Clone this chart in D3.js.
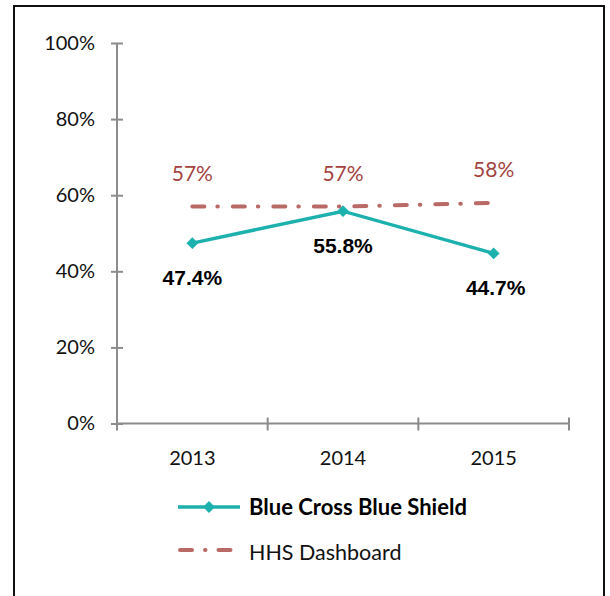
<!DOCTYPE html>
<html>
<head>
<meta charset="utf-8">
<script src="https://cdn.jsdelivr.net/npm/d3@7"></script>
<style>
	body { margin: 0; background: #fff; }
	svg text { font-family: Lato, "Liberation Sans", sans-serif; }
</style>
</head>
<body>
<div id="grafica"></div>
<script>
var years = ['2013', '2014', '2015'];
var bcbs = [0.474, 0.558, 0.447];
var bcbsLabels = ['47.4%', '55.8%', '44.7%'];
var hhs = [0.57, 0.57, 0.58];
var hhsLabels = ['57%', '57%', '58%'];
var yTicks = [0, 0.2, 0.4, 0.6, 0.8, 1];

var W = 610, H = 596;
var m = {t: 43, r: 41, b: 172, l: 117};

var svg = d3.select('#grafica').append('svg')
	.attr('width', W)
	.attr('height', H);

// marco
svg.append('rect')
	.attr('x', 14).attr('y', 6)
	.attr('width', 590).attr('height', 600)
	.attr('fill', 'none')
	.attr('stroke', '#111')
	.attr('stroke-width', 2);

var x = d3.scaleBand().domain(years).range([m.l, W - m.r]);
var y = d3.scaleLinear().domain([0, 1]).range([H - m.b - 0.5, m.t]);
var cx = function(d, i) { return x(years[i]) + x.bandwidth() / 2; };

// eje y
var yAxis = svg.append('g')
	.attr('transform', 'translate(' + m.l + ',0)')
	.call(d3.axisLeft(y).tickValues(yTicks).tickFormat(d3.format('.0%')).tickSize(6).tickPadding(16));
yAxis.selectAll('.tick line').attr('x2', -6).attr('x1', 6);
yAxis.select('.domain').attr('d', 'M0,' + y(1) + 'V' + y(0));

// eje x
var xAxis = svg.append('g')
	.attr('transform', 'translate(0,' + y(0) + ')')
	.call(d3.axisBottom(x).tickSize(0).tickPadding(27));
xAxis.select('.domain').attr('d', 'M' + m.l + ',0H' + (W - m.r));
var limites = years.map(function(d) { return x(d); }).concat([W - m.r]);
xAxis.selectAll('.limite').data(limites).enter().append('line')
	.attr('class', 'limite')
	.attr('x1', function(d) { return d; }).attr('x2', function(d) { return d; })
	.attr('y1', -6).attr('y2', 7);

svg.selectAll('.domain, .tick line, .limite')
	.attr('stroke', '#8c8c8c')
	.attr('stroke-width', 2);
svg.selectAll('.tick text')
	.attr('fill', '#111')
	.style('font-size', '20px');

// HHS
var lineaHHS = d3.line().x(cx).y(function(d) { return y(d); });
svg.append('path')
	.datum(hhs)
	.attr('d', lineaHHS)
	.attr('fill', 'none')
	.attr('stroke', '#b96a66')
	.attr('stroke-width', 4)
	.attr('stroke-linecap', 'round')
	.attr('stroke-dasharray', '12,13,0.5,15');

svg.selectAll('.etiquetaHHS').data(hhsLabels).enter().append('text')
	.attr('class', 'etiquetaHHS')
	.attr('x', function(d, i) { return cx(d, i); })
	.attr('y', function(d, i) { return y(hhs[i]) - 26; })
	.attr('text-anchor', 'middle')
	.attr('fill', '#a4423f')
	.style('font-size', '21px')
	.text(function(d) { return d; });

// BCBS
var lineaBCBS = d3.line().x(cx).y(function(d) { return y(d); });
svg.append('path')
	.datum(bcbs)
	.attr('d', lineaBCBS)
	.attr('fill', 'none')
	.attr('stroke', '#1db1ae')
	.attr('stroke-width', 3.5);

var diamante = d3.symbol().type(d3.symbolDiamond2).size(90);
svg.selectAll('.punto').data(bcbs).enter().append('path')
	.attr('class', 'punto')
	.attr('d', diamante)
	.attr('transform', function(d, i) { return 'translate(' + cx(d, i) + ',' + y(d) + ')'; })
	.attr('fill', '#1db1ae');

svg.selectAll('.etiquetaBCBS').data(bcbsLabels).enter().append('text')
	.attr('class', 'etiquetaBCBS')
	.attr('x', function(d, i) { return cx(d, i) + (i == 2 ? 2 : 0); })
	.attr('y', function(d, i) { return y(bcbs[i]) + 42; })
	.attr('text-anchor', 'middle')
	.attr('fill', '#000')
	.style('font-family', '"Liberation Sans", Arial, sans-serif')
	.style('font-weight', 'bold')
	.style('font-size', '21px')
	.text(function(d) { return d; });

// leyenda
var ley = svg.append('g').attr('transform', 'translate(178,0)');
ley.append('line')
	.attr('x1', 0).attr('x2', 62).attr('y1', 507).attr('y2', 507)
	.attr('stroke', '#1db1ae').attr('stroke-width', 3.5);
ley.append('path')
	.attr('d', diamante)
	.attr('transform', 'translate(31,507)')
	.attr('fill', '#1db1ae');
ley.append('text')
	.attr('x', 71).attr('y', 515)
	.attr('fill', '#000')
	.style('font-weight', 'bold')
	.style('font-size', '22px')
	.text('Blue Cross Blue Shield');

ley.append('line')
	.attr('x1', 2).attr('x2', 62).attr('y1', 550).attr('y2', 550)
	.attr('stroke', '#b96a66').attr('stroke-width', 4)
	.attr('stroke-linecap', 'round')
	.attr('stroke-dasharray', '12,13,0.5,13');
ley.append('text')
	.attr('x', 71).attr('y', 560)
	.attr('fill', '#111')
	.style('font-size', '21.5px')
	.text('HHS Dashboard');
</script>
</body>
</html>
